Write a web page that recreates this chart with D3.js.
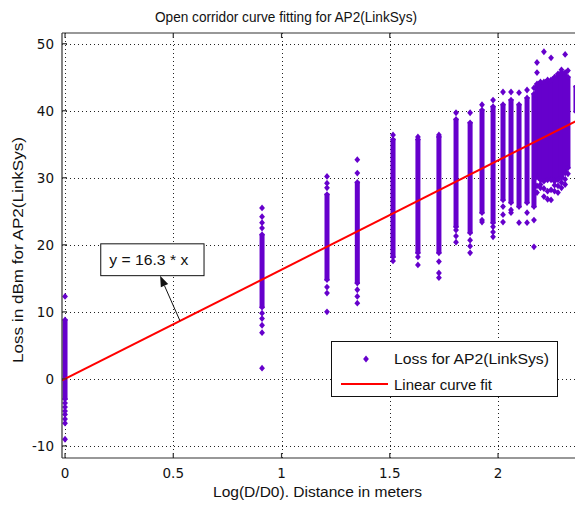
<!DOCTYPE html>
<html>
<head>
<meta charset="UTF-8"/>
<script src="https://d3js.org/d3.v7.min.js"></script>
<style>
body { margin: 0; background: #fff; }
text { font-family: "Liberation Sans", Arial, sans-serif; fill: #111; }
</style>
</head>
<body>
<script>
// measurement columns: log distance, solid band of readings, loose readings
const colX  = [0, 0.91, 1.21, 1.35, 1.515, 1.63, 1.727, 1.806, 1.871, 1.926, 1.977, 2.023, 2.06, 2.097, 2.134, 2.166,
               2.18, 2.196, 2.212, 2.229, 2.245, 2.261, 2.277, 2.293, 2.31, 2.323, 2.36];
const colLo = [-3, 10.7, 14.8, 14.3, 18.2, 18.8, 18.8, 22.7, 21.8, 24.8, 23.3, 26.7, 26.3, 25.7, 26.3, 25.7,
               30.1, 29.7, 29.5, 29.7, 29.7, 29.5, 29.7, 30.0, 30.7, 31.5, 39.9];
const colHi = [8.8, 21.5, 27.5, 29.3, 35.7, 35.7, 36.1, 38.7, 38.2, 40.1, 40.6, 40.9, 41.6, 40.9, 41.9, 42.5,
               44.0, 44.3, 44.3, 44.6, 44.6, 45.0, 45.5, 45.7, 45.7, 45.0, 43.6];
const colPts = [
  [12.3, -3.6, -4.2, -4.8, -5.3, -6.0, -6.6, -9.0],
  [22.5, 23.3, 24.2, 25.5, 9.8, 9.0, 8.0, 6.9, 1.6],
  [28.5, 29.2, 30.2, 13.7, 12.8, 10.0],
  [30.7, 32.7, 13.3, 12.3, 11.3],
  [36.4, 17.6],
  [36.1, 18.2, 17.0],
  [36.4, 17.5, 15.8, 15.1],
  [39.7, 22.2, 21.3, 20.4],
  [39.7, 20.7, 19.8, 18.8],
  [40.9, 23.7, 23.4],
  [41.6, 22.7, 21.9, 21.2],
  [42.8, 25.7, 24.5, 23.4],
  [42.8, 25.2, 24.8],
  [42.7, 23.3],
  [43.1, 24.8, 23.3],
  [43.4, 23.7, 19.7],
  [47.2, 45.7, 28.8, 27.8],
  [29.0, 28.5],
  [48.8, 28.4, 27.2],
  [28.0, 26.8],
  [47.9, 28.2, 26.7],
  [28.9, 28.0],
  [28.8, 27.8],
  [46.1, 29.3, 28.5],
  [48.4, 29.8, 29.0],
  [46.0, 30.6],
  []
];
// linear fit y = 16.3 * x
const fitX = [-0.014, 2.4];
const fitY = [-0.23, 39.12];

const xTicks = [0, 0.5, 1, 1.5, 2];
const yTicks = [-10, 0, 10, 20, 30, 40, 50];

const width = 575, height = 508;
const mLeft = 62, mTop = 33, mBottom = 458;
const xMin = -0.014, xMax = 2.42;
const purple = "#6600cc";

const svg = d3.select("body").append("svg")
  .attr("width", width).attr("height", height);

const x = d3.scaleLinear().domain([xMin, xMax]).range([mLeft, mLeft + (xMax - xMin) * 216.5]);
const y = d3.scaleLinear().domain([-11.8, 51.6]).range([mBottom, mTop]);
const mRight = x(xMax);

svg.append("defs").append("clipPath").attr("id", "plot")
  .append("rect").attr("x", mLeft).attr("y", mTop).attr("width", mRight - mLeft).attr("height", mBottom - mTop);

// grid
const grid = svg.append("g").attr("stroke", "#222").attr("stroke-width", 1).attr("stroke-dasharray", "1,3");
grid.selectAll(".gx").data(xTicks).enter().append("line")
  .attr("x1", d => Math.round(x(d)) + 0.5).attr("x2", d => Math.round(x(d)) + 0.5)
  .attr("y1", mTop).attr("y2", mBottom);
grid.selectAll(".gy").data(yTicks).enter().append("line")
  .attr("y1", d => Math.round(y(d)) + 0.5).attr("y2", d => Math.round(y(d)) + 0.5)
  .attr("x1", mLeft).attr("x2", mRight);

const plot = svg.append("g").attr("clip-path", "url(#plot)");

// solid bands of readings
plot.selectAll(".band").data(colX).enter().append("rect")
  .attr("fill", purple)
  .attr("x", d => x(d) - 2.5).attr("width", 5)
  .attr("y", (d, i) => y(colHi[i]) - 1)
  .attr("height", (d, i) => y(colLo[i]) - y(colHi[i]) + 2);

// diamond markers
const diamond = "M0,-3.4L2.9,0L0,3.4L-2.9,0Z";
const pts = [];
colX.forEach((cx, i) => {
  pts.push([cx, colLo[i]], [cx, colHi[i]]);
  colPts[i].forEach(v => pts.push([cx, v]));
});
plot.selectAll(".pt").data(pts).enter().append("path")
  .attr("d", diamond).attr("fill", purple)
  .attr("transform", d => "translate(" + x(d[0]) + "," + y(d[1]) + ")");

// fit line
plot.append("path")
  .datum(fitX.map((v, i) => [v, fitY[i]]))
  .attr("fill", "none").attr("stroke", "#ff0000").attr("stroke-width", 2)
  .attr("d", d3.line().x(d => x(d[0])).y(d => y(d[1])));

// axes box and ticks
const ax = svg.append("g").attr("stroke", "#333").attr("stroke-width", 1.2).attr("fill", "none");
ax.append("line").attr("x1", mLeft).attr("x2", mLeft).attr("y1", mTop).attr("y2", mBottom);
ax.append("line").attr("x1", mLeft).attr("x2", mRight).attr("y1", mTop).attr("y2", mTop);
ax.append("line").attr("x1", mLeft).attr("x2", mRight).attr("y1", mBottom).attr("y2", mBottom);
ax.selectAll(".tb").data(xTicks).enter().append("line")
  .attr("x1", d => x(d)).attr("x2", d => x(d)).attr("y1", mBottom).attr("y2", mBottom - 5);
ax.selectAll(".tt").data(xTicks).enter().append("line")
  .attr("x1", d => x(d)).attr("x2", d => x(d)).attr("y1", mTop).attr("y2", mTop + 5);
ax.selectAll(".tl").data(yTicks).enter().append("line")
  .attr("y1", d => y(d)).attr("y2", d => y(d)).attr("x1", mLeft).attr("x2", mLeft + 5);

// tick labels
svg.selectAll(".xl").data(xTicks).enter().append("text")
  .attr("x", d => x(d)).attr("y", 478).attr("text-anchor", "middle")
  .style("font-family", "'DejaVu Sans', sans-serif")
  .attr("font-size", 13.5).text(d => d);
svg.selectAll(".yl").data(yTicks).enter().append("text")
  .attr("x", 54).attr("y", d => y(d) + 5.5).attr("text-anchor", "end")
  .style("font-family", "'DejaVu Sans', sans-serif")
  .attr("font-size", 13.5).text(d => d);

function label(tx, ty, str, len) {
  return svg.append("text").attr("x", tx).attr("y", ty).attr("font-size", 14)
    .attr("textLength", len).attr("lengthAdjust", "spacingAndGlyphs").text(str);
}

// titles
label(155, 22, "Open corridor curve fitting for AP2(LinkSys)", 262);
label(213, 497, "Log(D/D0). Distance in meters", 209);
label(0, 0, "Loss in dBm for AP2(LinkSys)", 226)
  .attr("transform", "translate(23,363) rotate(-90)");

// annotation
const bx0 = x(0.165), bx1 = x(0.642), by0 = y(20.15), by1 = y(15.4);
svg.append("rect").attr("x", bx0).attr("y", by0).attr("width", bx1 - bx0).attr("height", by1 - by0)
  .attr("fill", "#fff").attr("stroke", "#111").attr("stroke-width", 1);
label(bx0 + 8.5, (by0 + by1) / 2 + 5, "y = 16.3 * x", 79);
const tail = [x(0.531), y(8.66)], tip = [x(0.439), y(15.4)];
const ang = Math.atan2(tip[1] - tail[1], tip[0] - tail[0]);
const hl = 11, hw = 4;
const base = [tip[0] - hl * Math.cos(ang), tip[1] - hl * Math.sin(ang)];
svg.append("line").attr("x1", tail[0]).attr("y1", tail[1]).attr("x2", base[0]).attr("y2", base[1])
  .attr("stroke", "#111").attr("stroke-width", 1);
svg.append("path").attr("fill", "#111")
  .attr("d", "M" + tip + "L" + [base[0] + hw * Math.sin(ang), base[1] - hw * Math.cos(ang)] +
             "L" + [base[0] - hw * Math.sin(ang), base[1] + hw * Math.cos(ang)] + "Z");

// legend
const lg = svg.append("g");
lg.append("rect").attr("x", 331.5).attr("y", 341.5).attr("width", 226).attr("height", 55)
  .attr("fill", "#fff").attr("stroke", "#111").attr("stroke-width", 1);
lg.append("path").attr("d", diamond).attr("fill", purple).attr("transform", "translate(366,359)");
label(394, 363.5, "Loss for AP2(LinkSys)", 155);
lg.append("line").attr("x1", 341).attr("x2", 388).attr("y1", 384).attr("y2", 384)
  .attr("stroke", "#ff0000").attr("stroke-width", 2);
label(394, 390, "Linear curve fit", 98);
</script>
</body>
</html>
